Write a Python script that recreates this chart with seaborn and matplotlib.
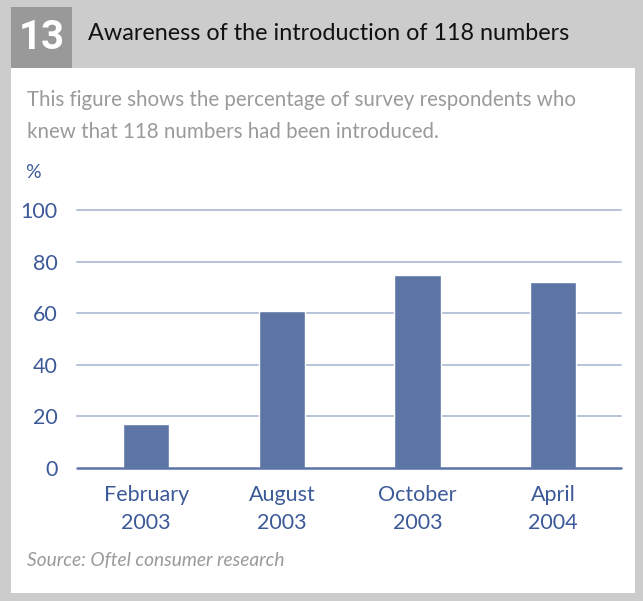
import matplotlib
matplotlib.use("Agg")
import matplotlib.pyplot as plt
from matplotlib.patches import Rectangle
import seaborn as sns
import pandas as pd

# Survey waves and share of respondents aware of 118 numbers (%)
periods = ["February\n2003", "August\n2003", "October\n2003", "April\n2004"]
aware_pct = [17, 61, 75, 72]
y_ticks = [0, 20, 40, 60, 80, 100]

fig_number = "13"
title = "Awareness of the introduction of 118 numbers"
subtitle = ("This figure shows the percentage of survey respondents who\n"
            "knew that 118 numbers had been introduced.")
source = "Source: Oftel consumer research"

sns.set_theme(style="white")
plt.rcParams["font.family"] = ["Lato", "DejaVu Sans"]

W, H = 643, 601
fig = plt.figure(figsize=(W / 100, H / 100), dpi=100)
fig.patch.set_facecolor("#cccccc")

def px_rect(x0, y0, x1, y1, color):
    fig.patches.append(Rectangle((x0 / W, 1 - y1 / H), (x1 - x0) / W, (y1 - y0) / H,
                                 transform=fig.transFigure, facecolor=color,
                                 edgecolor="none", zorder=0))

# white content panel and number badge
px_rect(11, 68, 635, 593, "white")
px_rect(11, 7, 72, 68, "#999999")
fig.text(42 / W, 1 - 38 / H, fig_number, color="white", fontsize=29,
         fontweight="bold", family=["Roboto", "DejaVu Sans"],
         ha="center", va="center")
fig.text(88 / W, 1 - 34 / H, title, color="#111111", fontsize=16.8,
         ha="left", va="center")
fig.text(27 / W, 1 - 116 / H, subtitle, color="#9a9a9a", fontsize=14.8,
         ha="left", va="center", linespacing=1.75)
fig.text(27 / W, 1 - 561 / H, source, color="#9a9a9a", fontsize=13.8,
         style="italic", ha="left", va="center")
fig.text(33 / W, 1 - 173 / H, "%", color="#3d5a98", fontsize=14,
         ha="center", va="center")

ax_l, ax_r, ax_b, ax_t = 77, 621, 468, 210
ax = fig.add_axes([ax_l / W, 1 - ax_b / H, (ax_r - ax_l) / W, (ax_b - ax_t) / H])
ax.set_zorder(2)
ax.set_facecolor("none")

df = pd.DataFrame({"period": periods, "pct": aware_pct})
sns.barplot(data=df, x="period", y="pct", color="#5d75a4", saturation=1,
            width=0.34, ax=ax, zorder=3)

ax.set_xlim(-0.51, 3.5)
ax.set_ylim(0, 100)
ax.set_yticks(y_ticks)
ax.set_xlabel("")
ax.set_ylabel("")
for s in ax.spines.values():
    s.set_visible(False)
for t in y_ticks[1:]:
    ax.axhline(t, color="#b7c3d9", lw=1.4, zorder=1, clip_on=False)
ax.axhline(0, color="#5a72a6", lw=1.8, zorder=4, clip_on=False)

ax.tick_params(axis="y", length=0, pad=14, labelsize=15.5, labelcolor="#3d5a98")
ax.tick_params(axis="x", length=0, pad=12, labelsize=15.5, labelcolor="#3d5a98")
for lab in ax.get_xticklabels():
    lab.set_linespacing(1.5)

fig.savefig("out.png", dpi=100, facecolor=fig.get_facecolor())
